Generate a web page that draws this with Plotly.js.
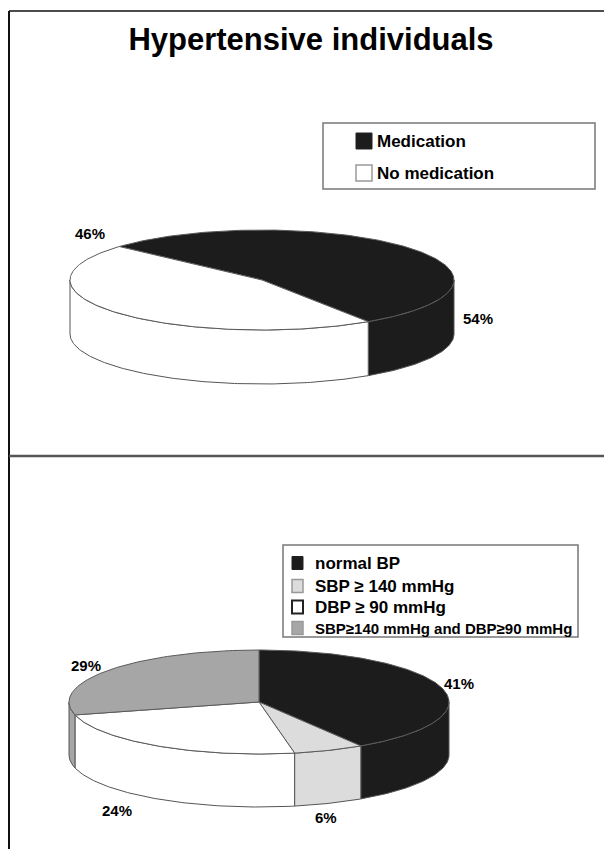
<!DOCTYPE html>
<html>
<head>
<meta charset="utf-8">
<script src="https://cdn.plot.ly/plotly-3.0.1.min.js"></script>
<style>html,body{margin:0;padding:0;background:#fff;}#chart{width:604px;height:849px;}</style>
</head>
<body>
<div id="chart"></div>
<script>
// ---- data ----
const chartTitle = 'Hypertensive individuals';
const topCategories = ['Medication', 'No medication'];
const topValues = [54, 46];
const bottomCategories = ['normal BP', 'SBP \u2265 140 mmHg', 'DBP \u2265 90 mmHg', 'SBP\u2265140 mmHg and DBP\u226590 mmHg'];
const bottomValues = [41, 6, 24, 29];

// ---- styles / layout geometry (pixels) ----
const topColors = ['#1c1c1c', '#ffffff'];
const bottomColors = ['#1c1c1c', '#dcdcdc', '#ffffff', '#a6a6a6'];
const topPie = {cx: 262, cy: 280, a: 192, b: 50, depth: 54, rotation: -48};
const bottomPie = {cx: 259, cy: 702, a: 190, b: 52, depth: 53, rotation: 0};
const topLabelAnchors = [[478, 318], [90, 233]];
const bottomLabelAnchors = [[459, 683], [326, 817], [117, 810], [86, 665]];
const FONT = 'Liberation Sans, Arial, sans-serif';

const traces = [];
const shapes = [];
const annotations = [];

function pt(g, deg, dz) {
  const r = deg * Math.PI / 180;
  return [g.cx + g.a * Math.sin(r), g.cy - g.b * Math.cos(r) + dz];
}
function arc(g, from, to, dz) {
  const pts = [];
  const n = Math.max(2, Math.ceil(Math.abs(to - from)));
  for (let i = 0; i <= n; i++) pts.push(pt(g, from + (to - from) * i / n, dz));
  return pts;
}
function addPoly(pts, fill, line) {
  traces.push({
    type: 'scatter', mode: 'lines', fill: 'toself', fillcolor: fill,
    x: pts.map(p => p[0]), y: pts.map(p => p[1]),
    line: {color: line, width: 1}, hoverinfo: 'skip', showlegend: false
  });
}
function drawPie(g, values, colors) {
  const total = values.reduce((s, v) => s + v, 0);
  const slices = [];
  let cum = 0;
  values.forEach((v, i) => {
    const s = g.rotation + cum / total * 360;
    const e = s + v / total * 360;
    cum += v;
    slices.push({s, e, color: colors[i]});
  });
  // sides (front half only)
  slices.forEach(sl => {
    for (let k = -1; k <= 1; k++) {
      const lo = Math.max(sl.s, 90 + 360 * k);
      const hi = Math.min(sl.e, 270 + 360 * k);
      if (hi > lo) {
        const pts = arc(g, lo, hi, 0).concat(arc(g, hi, lo, g.depth));
        pts.push(pts[0]);
        addPoly(pts, sl.color, '#555');
      }
    }
  });
  // top faces
  slices.forEach(sl => {
    const c = [g.cx, g.cy];
    const pts = [c].concat(arc(g, sl.s, sl.e, 0)).concat([c]);
    addPoly(pts, sl.color, '#5a5a5a');
  });
}
drawPie(topPie, topValues, topColors);
drawPie(bottomPie, bottomValues, bottomColors);

// value labels
function addLabels(values, anchors) {
  values.forEach((v, i) => {
    annotations.push({
      x: anchors[i][0], y: anchors[i][1], xref: 'x', yref: 'y',
      text: '<b>' + v + '%</b>', showarrow: false, xanchor: 'center', yanchor: 'middle',
      font: {family: FONT, size: 15, color: '#000'}
    });
  });
}
addLabels(topValues, topLabelAnchors);
addLabels(bottomValues, bottomLabelAnchors);

// frame lines
shapes.push({type: 'line', xref: 'x', yref: 'y', x0: 9, x1: 604, y0: 11, y1: 11, line: {color: '#111', width: 1.5}});
shapes.push({type: 'line', xref: 'x', yref: 'y', x0: 9, x1: 9, y0: 11, y1: 849, line: {color: '#111', width: 2}});
shapes.push({type: 'line', xref: 'x', yref: 'y', x0: 9, x1: 604, y0: 456, y1: 456, line: {color: '#555', width: 2.5}});

// legends (drawn as boxes, swatches and text)
function drawLegend(box, cats, colors, swatch, rows, textX, fonts, borders) {
  shapes.push({type: 'rect', xref: 'x', yref: 'y', x0: box[0], x1: box[1], y0: box[2], y1: box[3],
    line: {color: '#777', width: 1.5}, fillcolor: 'rgba(0,0,0,0)'});
  cats.forEach((c, i) => {
    const y = rows[i];
    shapes.push({type: 'rect', xref: 'x', yref: 'y', x0: swatch[0], x1: swatch[0] + swatch[1],
      y0: y - swatch[2] / 2, y1: y + swatch[2] / 2, fillcolor: colors[i],
      line: {color: borders[i][0], width: borders[i][1]}});
    annotations.push({x: textX, y: y, xref: 'x', yref: 'y', text: '<b>' + c + '</b>', showarrow: false,
      xanchor: 'left', yanchor: 'middle', font: {family: FONT, size: fonts[i], color: '#000'}});
  });
}
drawLegend([323, 595, 123, 189], topCategories, topColors, [356, 16, 16], [141, 173], 375, [17, 17],
  [['#222', 1], ['#999', 1.5]]);
drawLegend([283, 578, 545, 637], bottomCategories, bottomColors, [292, 11, 13], [563, 586, 607, 628], 313, [17, 17, 17, 15],
  [['#222', 1], ['#999', 1.5], ['#222', 2], ['#999', 1.5]]);

const layout = {
  width: 604, height: 849, autosize: false,
  margin: {l: 0, r: 0, t: 0, b: 0, pad: 0},
  paper_bgcolor: '#fff', plot_bgcolor: '#fff',
  showlegend: false,
  title: {text: '<b>' + chartTitle + '</b>', font: {family: FONT, size: 31, color: '#000'},
    x: 311 / 604, xanchor: 'center', y: 1 - 39 / 849, yanchor: 'middle', xref: 'paper', yref: 'paper'},
  xaxis: {range: [0, 604], visible: false, fixedrange: true},
  yaxis: {range: [849, 0], visible: false, fixedrange: true},
  shapes: shapes, annotations: annotations
};
Plotly.newPlot('chart', traces, layout, {staticPlot: true, displayModeBar: false});
</script>
</body>
</html>
